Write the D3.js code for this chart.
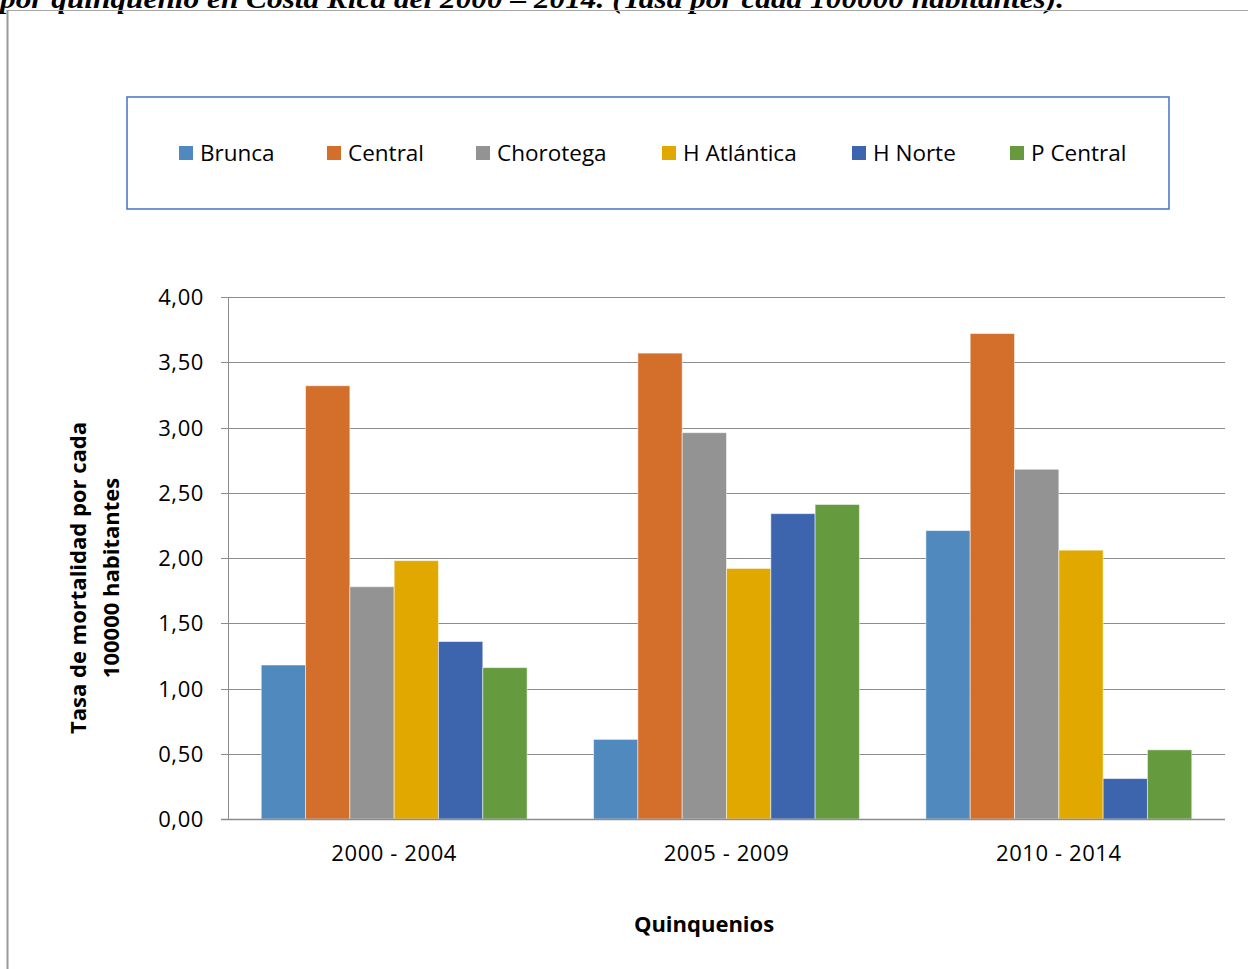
<!DOCTYPE html>
<html><head><meta charset="utf-8">
<script src="https://cdn.jsdelivr.net/npm/d3@7"></script>
<style>body{margin:0;background:#fff;} svg{display:block;}</style>
</head><body>
<script>
const categories = ["2000 - 2004", "2005 - 2009", "2010 - 2014"];
const seriesNames = ["Brunca", "Central", "Chorotega", "H Atlántica", "H Norte", "P Central"];
const brunca = [1.18, 0.61, 2.21];
const central = [3.32, 3.57, 3.72];
const chorotega = [1.78, 2.96, 2.68];
const hAtlantica = [1.98, 1.92, 2.06];
const hNorte = [1.36, 2.34, 0.31];
const pCentral = [1.16, 2.41, 0.53];
const yTicks = [0, 0.5, 1, 1.5, 2, 2.5, 3, 3.5, 4];
const colors = ["#4F89BE", "#D36E2B", "#939393", "#E1A900", "#3D65AD", "#659A3F"];
const seriesValues = [brunca, central, chorotega, hAtlantica, hNorte, pCentral];

(function () {
const W = 1248, H = 969;
const svg = d3.select("body").append("svg").attr("width", W).attr("height", H);

// title (cut off at top)
svg.append("text").attr("x", 0).attr("y", 8)
  .attr("font-family", "Liberation Serif").attr("font-weight", "bold").attr("font-style", "italic")
  .attr("font-size", 28).attr("fill", "#000")
  .attr("textLength", 1064).attr("lengthAdjust", "spacingAndGlyphs")
  .text("por quinquenio en Costa Rica del 2000 – 2014. (Tasa por cada 100000 habitantes).");

// chart frame
svg.append("line").attr("x1", 7).attr("x2", W).attr("y1", 10.5).attr("y2", 10.5).attr("stroke", "#a6a6a6").attr("stroke-width", 1);
svg.append("line").attr("x1", 7.5).attr("x2", 7.5).attr("y1", 10).attr("y2", H).attr("stroke", "#9a9a9a").attr("stroke-width", 2);

// legend
svg.append("rect").attr("x", 127).attr("y", 97).attr("width", 1042).attr("height", 112)
  .attr("fill", "#fff").attr("stroke", "#4472C4").attr("stroke-width", 1.5);
const legendX = [179, 327, 476, 662, 852, 1010];
const lg = svg.append("g");
seriesNames.forEach((n, i) => {
  lg.append("rect").attr("x", legendX[i]).attr("y", 146).attr("width", 14).attr("height", 14).attr("fill", colors[i]);
  lg.append("text").attr("x", legendX[i] + 21).attr("y", 161)
    .attr("font-family", "Open Sans").attr("font-size", 22.5).attr("fill", "#000").text(n);
});

const pLeft = 228, pRight = 1225, pTop = 297, pBottom = 819;
const y = d3.scaleLinear().domain([0, 4]).range([pBottom, pTop]);
const x0 = d3.scaleBand().domain(categories).range([pLeft, pRight]).paddingInner(0.2).paddingOuter(0.1);
const x1 = d3.scaleBand().domain(seriesNames).range([0, x0.bandwidth()]);

// gridlines
svg.append("g").selectAll("line").data(yTicks.filter(d => d > 0)).join("line")
  .attr("x1", pLeft - 7).attr("x2", pRight).attr("y1", d => Math.round(y(d)) + 0.5).attr("y2", d => Math.round(y(d)) + 0.5)
  .attr("stroke", "#8c8c8c").attr("stroke-width", 1);

// y labels
svg.append("g").selectAll("text").data(yTicks).join("text")
  .attr("x", 204).attr("y", d => y(d) + 8).attr("text-anchor", "end")
  .attr("font-family", "Open Sans").attr("font-size", 22).attr("letter-spacing", 0.6).attr("fill", "#000")
  .text(d => d3.format(".2f")(d).replace(".", ","));

// bars
const groups = svg.append("g").selectAll("g").data(categories).join("g")
  .attr("transform", c => `translate(${x0(c)},0)`);
groups.selectAll("rect").data((c, ci) => seriesNames.map((s, si) => ({ s, si, v: seriesValues[si][ci] }))).join("rect")
  .attr("x", d => x1(d.s)).attr("width", x1.bandwidth())
  .attr("y", d => y(d.v)).attr("height", d => y(0) - y(d.v))
  .attr("fill", d => colors[d.si]).attr("stroke", "#ffffff").attr("stroke-opacity", 0.5).attr("stroke-width", 1);

// axes lines
svg.append("line").attr("x1", pLeft + 0.5).attr("x2", pLeft + 0.5).attr("y1", pTop).attr("y2", pBottom).attr("stroke", "#8c8c8c");
svg.append("line").attr("x1", pLeft - 7).attr("x2", pRight).attr("y1", pBottom + 0.5).attr("y2", pBottom + 0.5).attr("stroke", "#8c8c8c").attr("stroke-width", 1.5);

// x labels
svg.append("g").selectAll("text").data(categories).join("text")
  .attr("x", c => x0(c) + x0.bandwidth() / 2).attr("y", 861).attr("text-anchor", "middle")
  .attr("font-family", "Open Sans").attr("font-size", 22).attr("letter-spacing", 0.6).attr("fill", "#000").text(c => c);

// axis titles
svg.append("text").attr("x", 704).attr("y", 932).attr("text-anchor", "middle")
  .attr("font-family", "Open Sans").attr("font-weight", "bold").attr("font-size", 22).text("Quinquenios");
const yt = svg.append("text").attr("transform", "translate(0,578) rotate(-90)")
  .attr("text-anchor", "middle").attr("font-family", "Open Sans").attr("font-weight", "bold").attr("font-size", 22);
yt.append("tspan").attr("x", 0).attr("y", 86).text("Tasa de mortalidad por cada");
yt.append("tspan").attr("x", 0).attr("y", 119).text("100000 habitantes");
})();
</script>
</body></html>
